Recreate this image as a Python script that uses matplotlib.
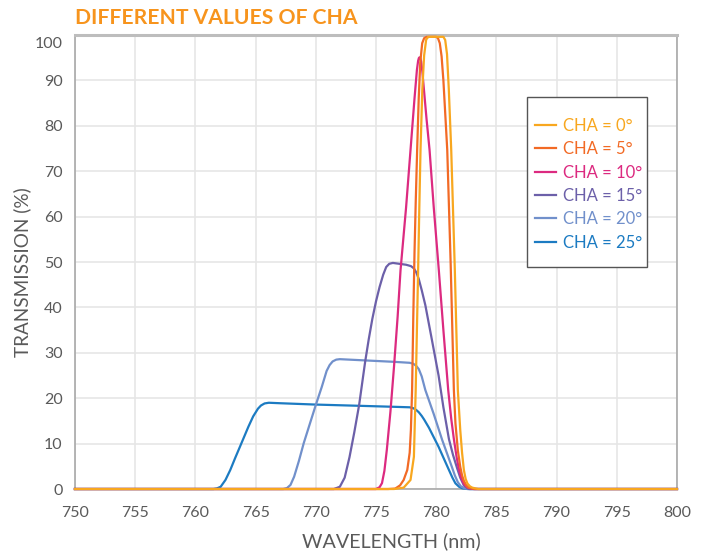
import matplotlib
matplotlib.use("Agg")
import matplotlib.pyplot as plt
from matplotlib.patches import Rectangle
from matplotlib.transforms import ScaledTranslation

# transmission curves (wavelength nm, transmission %)
wl_0 = [750, 776.5, 777.3, 777.87, 778.15, 778.3, 778.4, 778.5, 778.6, 778.7, 778.85, 779.0,
        779.17, 779.35, 780.6, 780.75, 780.9, 781.05, 781.25, 781.55, 781.8, 782.0, 782.15,
        782.3, 782.45, 782.6, 782.8, 783.0, 783.5, 800]
tr_0 = [0, 0, 0.3, 2.0, 7.1, 21.8, 35, 48, 62, 74.7, 88, 95.5,
        99.0, 99.6, 99.6, 98.9, 95.8, 88, 74.7, 48.2, 21.8, 13, 8,
        4.2, 2.2, 1.2, 0.6, 0.3, 0, 0]

wl_5 = [750, 776.0, 776.6, 777.0, 777.3, 777.6, 777.8, 777.9, 778.0, 778.1, 778.2, 778.3,
        778.42, 778.55, 778.68, 778.84, 779.0, 779.2, 780.0, 780.15, 780.3, 780.45, 780.6,
        780.92, 781.2, 781.47, 781.6, 781.8, 782.0, 782.15, 782.3, 782.5, 782.7, 783.2, 800]
tr_5 = [0, 0, 0.1, 0.8, 2.0, 4.2, 8, 13, 21.8, 38, 52, 63,
        74.7, 86, 94, 98.2, 99.3, 99.6, 99.6, 99.3, 98.2, 95.3, 90,
        74.7, 50, 21.8, 14.5, 8.5, 4.9, 3.0, 1.8, 0.8, 0.3, 0, 0]

wl_10 = [750, 775.0, 775.3, 775.5, 775.7, 775.9, 776.2, 776.5, 776.8, 777.04, 777.5, 777.87,
         778.2, 778.4, 778.5, 778.56, 778.62, 778.68, 778.75, 778.85, 779.0, 779.2, 779.45,
         779.8, 780.22, 780.6, 781.0, 781.25, 781.47, 781.7, 781.9, 782.1, 782.3, 782.6,
         783.1, 800]
tr_10 = [0, 0, 0.4, 1.3, 4, 8.6, 17, 27, 38, 48.2, 62, 74.7,
         86, 92.3, 94.3, 94.9, 95.1, 94.9, 94.2, 92, 87.5, 81.5, 74.7,
         62, 48.2, 35, 21.8, 15.5, 11.0, 7.0, 4.2, 2.3, 1.1, 0.3,
         0, 0]

wl_15 = [750, 771.5, 772.0, 772.4, 772.8, 773.2, 773.6, 774.1, 774.4, 774.7, 775.0, 775.3,
         775.6, 775.85, 776.1, 776.4, 777.5, 777.9, 778.15, 778.35, 778.55, 778.8, 779.1,
         779.6, 780.2, 780.6, 781.06, 781.4, 781.75, 782.0, 782.3, 782.7, 800]
tr_15 = [0, 0, 0.5, 2.5, 7, 12.5, 18.5, 28, 33, 37.5, 41.3, 44.5,
         47.2, 48.9, 49.6, 49.8, 49.4, 49.1, 48.6, 47.7, 46.3, 43.8, 40.5,
         33.5, 25, 18, 11, 7.5, 4.5, 2.5, 0.8, 0, 0]

wl_20 = [750, 767.3, 767.6, 767.9, 768.2, 768.6, 769.0, 769.5, 770.0, 770.5, 770.9, 771.15,
         771.4, 771.7, 772.0, 776.6, 777.8, 778.1, 778.35, 778.56, 778.8, 779.1, 779.8,
         780.5, 781.3, 781.55, 781.8, 782.05, 782.4, 782.8, 800]
tr_20 = [0, 0, 0.2, 0.9, 2.7, 6.2, 10.1, 14.3, 18.5, 22.5, 26.0, 27.3,
         28.1, 28.5, 28.6, 28.0, 27.8, 27.6, 27.1, 26.4, 24.8, 21.8, 16.5,
         10.8, 4.9, 3.0, 1.5, 0.6, 0.1, 0, 0]

wl_25 = [750, 761.5, 761.8, 762.1, 762.5, 762.9, 763.3, 763.7, 764.4, 764.8, 765.2, 765.45,
         765.75, 766.1, 767.0, 770.0, 774.0, 776.6, 777.8, 778.1, 778.35, 778.56, 778.8,
         779.0, 779.4, 780.2, 781.06, 781.35, 781.6, 781.9, 782.17, 782.6, 800]
tr_25 = [0, 0, 0.15, 0.5, 2.0, 4.2, 6.8, 9.3, 13.7, 16.0, 17.7, 18.4,
         18.85, 19.0, 18.9, 18.6, 18.3, 18.1, 18.0, 17.8, 17.4, 16.9, 16.1,
         15.3, 13.5, 9.3, 4.2, 2.5, 1.25, 0.5, 0.15, 0, 0]

labels = ["CHA = 0°", "CHA = 5°", "CHA = 10°", "CHA = 15°", "CHA = 20°", "CHA = 25°"]
colors = ["#f8a71f", "#f26a25", "#dc2a80", "#6c60a9", "#7190cb", "#1c7bc2"]
series = [(wl_0, tr_0), (wl_5, tr_5), (wl_10, tr_10), (wl_15, tr_15), (wl_20, tr_20), (wl_25, tr_25)]

x_ticks = list(range(750, 801, 5))
y_ticks = list(range(0, 101, 10))

plt.rcParams["font.family"] = ["Lato", "DejaVu Sans"]
GREY = "#5a5a5a"

fig = plt.figure(figsize=(7.04, 5.54), dpi=100)
ax = fig.add_axes([0.1065, 0.1173, 0.8551, 0.8195])

handles = [None] * len(series)
# draw 25° first so the narrow filters sit on top; 5° last
for i in [5, 4, 3, 2, 0, 1]:
    wl, tr = series[i]
    ln, = ax.plot(wl, tr, color=colors[i], lw=1.6, label=labels[i],
                  zorder=3 + (5 - i), clip_on=False)
    handles[i] = ln

ax.set_xlim(750, 800)
ax.set_ylim(0, 100)
ax.set_xticks(x_ticks)
ax.set_yticks(y_ticks)
ax.grid(True, color="#e6e6e6", lw=1.2)
ax.set_axisbelow(True)
ax.tick_params(length=0, labelsize=11.5, labelcolor=GREY)
ax.tick_params(axis="x", pad=12)
ax.tick_params(axis="y", pad=9)
for side in ["left", "right", "bottom"]:
    ax.spines[side].set_color("#a8a8a8")
    ax.spines[side].set_linewidth(1.2)
ax.spines["top"].set_color("#bdbdbd")
ax.spines["top"].set_linewidth(2.2)

# the "100" label sits a little below the top edge in the original
top_lab = ax.yaxis.get_major_ticks()[-1].label1
top_lab.set_transform(top_lab.get_transform() + ScaledTranslation(0, -7 / 100, fig.dpi_scale_trans))

ax.set_xlabel("WAVELENGTH (nm)", fontsize=14.2, color=GREY, labelpad=9)
ax.xaxis.label.set_x(0.5 + 15 / 602)
ax.set_ylabel("TRANSMISSION (%)", fontsize=13.6, color=GREY, labelpad=2.5)
ax.yaxis.label.set_y(0.5 - 10 / 454)

fig.text(0.1065, 0.968, "DIFFERENT VALUES OF CHA", fontsize=15.2, fontweight="bold",
         color="#f7941d", ha="left", va="center")

# legend box drawn separately: the original has more room above/below than at the sides
fig.patches.append(Rectangle((527 / 704, 1 - 267 / 554), 120 / 704, 170 / 554,
                             transform=fig.transFigure, facecolor="white",
                             edgecolor="#555555", lw=1.0, zorder=4))
leg = fig.legend(handles=handles, loc="upper left", bbox_to_anchor=(535 / 704, 1 - 118 / 554),
                 frameon=False, fontsize=12, handlelength=1.25, handletextpad=0.45,
                 labelspacing=0.44, borderpad=0, borderaxespad=0)
leg.set_zorder(5)
for txt, c in zip(leg.get_texts(), colors):
    txt.set_color(c)

fig.savefig("out.png", dpi=100)
